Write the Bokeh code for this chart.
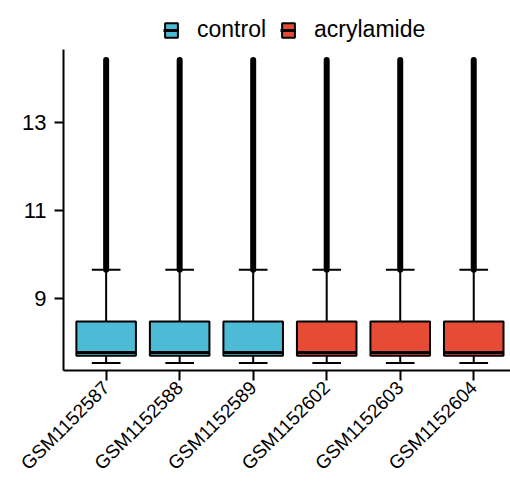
import numpy as np
from bokeh.plotting import figure
from bokeh.models import Range1d, FixedTicker, Legend, LegendItem, ColumnDataSource
from bokeh.embed import file_html
from bokeh.resources import INLINE

samples = ["GSM1152587", "GSM1152588", "GSM1152589", "GSM1152602", "GSM1152603", "GSM1152604"]
groups = ["control", "control", "control", "acrylamide", "acrylamide", "acrylamide"]
lower_whisker = [7.54, 7.54, 7.54, 7.54, 7.54, 7.54]
q1 = [7.705, 7.705, 7.705, 7.705, 7.705, 7.705]
median = [7.78, 7.78, 7.78, 7.78, 7.78, 7.78]
q3 = [8.485, 8.485, 8.485, 8.485, 8.485, 8.485]
upper_whisker = [9.66, 9.66, 9.66, 9.66, 9.66, 9.66]
outlier_max = [14.43, 14.43, 14.43, 14.43, 14.43, 14.43]
group_colors = {"control": "#4DBBD5", "acrylamide": "#E64B35"}
y_axis_extent = (7.37, 14.675)

FONT = "Liberation Sans"
xs = np.arange(1, len(samples) + 1)

p = figure(width=510, height=489, output_backend="svg", toolbar_location=None,
           x_range=Range1d(0.42, 6.5), y_range=Range1d(7.37, 15.78),
           min_border_left=63, min_border_right=0, min_border_top=0, min_border_bottom=119)
p.outline_line_color = None
p.xgrid.grid_line_color = None
p.ygrid.grid_line_color = None
p.background_fill_color = "white"

# outliers (dense, drawn as a thick line of overlapping points)
p.segment(x0=xs, y0=upper_whisker, x1=xs, y1=outlier_max, line_color="black",
          line_width=6, line_cap="round")
# whiskers
p.segment(x0=xs, y0=lower_whisker, x1=xs, y1=q1, line_color="black", line_width=2)
p.segment(x0=xs, y0=q3, x1=xs, y1=upper_whisker, line_color="black", line_width=2)
# whisker caps
p.segment(x0=xs - 0.195, y0=upper_whisker, x1=xs + 0.195, y1=upper_whisker, line_color="black", line_width=2)
p.segment(x0=xs - 0.195, y0=lower_whisker, x1=xs + 0.195, y1=lower_whisker, line_color="black", line_width=2)

legend_items = []
for g in ["control", "acrylamide"]:
    idx = [i for i, gg in enumerate(groups) if gg == g]
    src = ColumnDataSource(dict(x=xs[idx], top=[q3[i] for i in idx], bottom=[q1[i] for i in idx],
                                med=[median[i] for i in idx]))
    r1 = p.vbar(x="x", top="top", bottom="bottom", width=0.81, source=src,
                fill_color=group_colors[g], line_color="black", line_width=2)
    r2 = p.segment(x0="x", y0="med", x1="x", y1="med", source=src, line_color="black", line_width=3)
    p.segment(x0=xs[idx] - 0.405, y0=[median[i] for i in idx], x1=xs[idx] + 0.405,
              y1=[median[i] for i in idx], line_color="black", line_width=3)
    legend_items.append(LegendItem(label=g, renderers=[r1, r2]))

legend = Legend(items=legend_items, orientation="horizontal", location=(100, 327),
                border_line_color=None, background_fill_alpha=0,
                label_text_font=FONT, label_text_font_size="23px", label_text_color="black",
                glyph_width=16, glyph_height=18, label_standoff=18, spacing=14,
                padding=0, margin=0)
p.add_layout(legend, "center")

p.xaxis.ticker = FixedTicker(ticks=list(xs))
p.xaxis.major_label_overrides = {int(x): s for x, s in zip(xs, samples)}
p.xaxis.major_label_orientation = np.pi / 4
p.yaxis.ticker = FixedTicker(ticks=[9, 11, 13])
p.yaxis.bounds = y_axis_extent

for ax in [p.xaxis[0], p.yaxis[0]]:
    ax.axis_line_width = 2
    ax.axis_line_color = "black"
    ax.major_tick_line_width = 2
    ax.major_tick_line_color = "black"
    ax.minor_tick_line_color = None
    ax.major_tick_in = 0
    ax.major_label_text_font = FONT
    ax.major_label_text_color = "black"
p.yaxis.major_label_text_font_size = "22px"
p.xaxis.major_label_text_font_size = "19px"
p.xaxis.major_tick_out = 10
p.yaxis.major_tick_out = 9
p.yaxis.major_label_standoff = 8
p.xaxis.major_label_standoff = 4

open("out.html", "w").write(file_html(p, INLINE))
